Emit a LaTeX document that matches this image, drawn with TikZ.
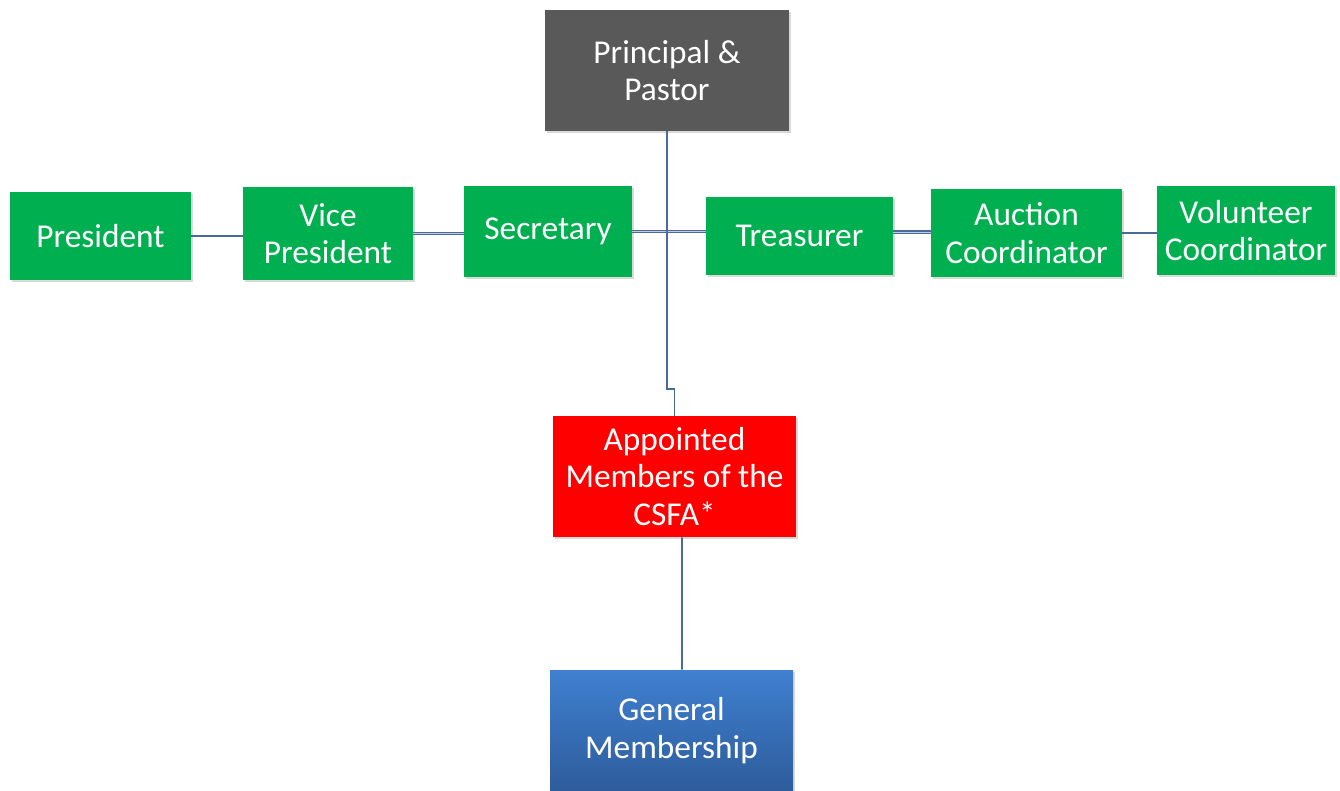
\documentclass[tikz,border=0pt]{standalone}
\usepackage{fontspec}
\setmainfont{Carlito}
\usetikzlibrary{shadows}
\definecolor{boardgreen}{HTML}{00B050}
\definecolor{leadgray}{HTML}{595959}
\definecolor{csfared}{HTML}{FF0000}
\definecolor{gentop}{HTML}{3F80D0}
\definecolor{genbottom}{HTML}{2E5C9C}
\definecolor{linkblue}{HTML}{4A6A9C}
\begin{document}
\begin{tikzpicture}
    [
        x = 0.75pt, y = -0.75pt,
        box/.style = {inner sep = 0pt, align = center, text = white,
            font = \fontsize{25}{28}\selectfont,
            drop shadow = {shadow xshift = 1.5pt, shadow yshift = -1.5pt, opacity = 0.3}},
        member/.style = {box, fill = boardgreen},
        link/.style = {draw = linkblue, line width = 1.2pt},
        dlink/.style = {draw = linkblue, double = linkblue!35, double distance = 0.6pt, line width = 0.9pt}
    ]

    \useasboundingbox (0,0) rectangle (1340,791);

    \node[box, fill = leadgray, minimum width = 183pt, minimum height = 90.75pt] (pp) at (667,70.5) {Principal \&\\Pastor};

    \node[member, minimum width = 135.75pt, minimum height = 66pt] (pres) at (100.5,236) {President};
    \node[member, minimum width = 127.5pt, minimum height = 69.75pt] (vp) at (328,233.5) {Vice\\President};
    \node[member, minimum width = 126pt, minimum height = 68.25pt] (sec) at (548,231.5) {Secretary};
    \node[member, minimum width = 140.25pt, minimum height = 58.5pt] (tre) at (799.5,236) {Treasurer};
    \node[member, minimum width = 143.25pt, minimum height = 66pt] (auc) at (1026.5,233) {Auction\\Coordinator};
    \node[member, minimum width = 133.5pt, minimum height = 66.75pt] (vol) at (1246,230.5) {Volunteer\\Coordinator};

    \node[box, fill = csfared, minimum width = 182.25pt, minimum height = 90.75pt] (apm) at (674.5,476.5) {Appointed\\Members of the\\CSFA*};
    \node[box, top color = gentop, bottom color = genbottom, minimum width = 182.25pt, minimum height = 90.75pt] (gen) at (671.5,730.5) {General\\Membership};

    % officers in a row
    \draw[link] (pres.east) -- (pres.east -| vp.west);
    \draw[dlink] (vp.east) -- (vp.east -| sec.west);
    \draw[dlink] (sec.east) -- (sec.east -| tre.west);
    \draw[dlink] ([yshift = 3pt]tre.east) -- ([yshift = 3pt]tre.east -| auc.west);
    \draw[link] (auc.east) -- (auc.east -| vol.west);

    % down the middle
    \coordinate (kink) at (667,389);
    \draw[link] (pp.south) -- (kink) -| (apm.north);
    \draw[link] ([xshift = 5.6pt]apm.south) -- ([xshift = 7.9pt]gen.north);
\end{tikzpicture}
\end{document}
